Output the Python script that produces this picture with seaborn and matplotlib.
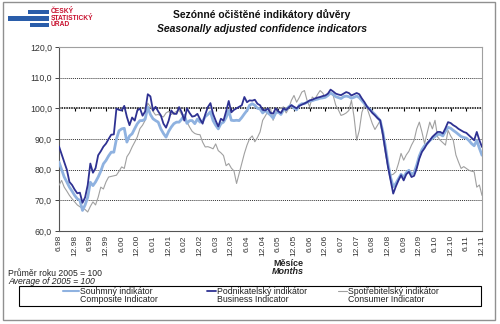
import matplotlib
matplotlib.use("Agg")
import matplotlib.pyplot as plt
import seaborn as sns
import pandas as pd
import numpy as np
from matplotlib.patches import Rectangle
from matplotlib.lines import Line2D

sns.set_theme(style="white")
plt.rcParams['font.family'] = ['Liberation Sans', 'DejaVu Sans']

# Monthly data, June 1998 .. December 2011
composite = [82.5, 80, 77.6, 76, 74.3, 73, 71.6, 70.5, 70, 66.7, 68.5, 71, 75.9, 74.8, 76, 77.6, 79.5, 81.9, 83, 84.5,
             85.7, 85.7, 90, 92.7, 93.3, 93.5, 89, 91, 91.7, 93.4, 95, 96, 96, 96.5, 100.4, 98, 96.6, 96, 95.5, 93.3,
             91.8, 90.6, 92.5, 93.9, 95, 95.5, 95.5, 96.5, 97.8, 95.1, 96, 96, 95, 96.5, 95.5, 95.8, 97.3, 98, 98.9, 96,
             94.5, 93.3, 95, 95.5, 97, 99.3, 96.1, 96, 96.1, 96, 97, 98.2, 99.3, 101, 101.5, 101, 100, 99.8, 98.5, 99.3,
             98.5, 97.8, 96.8, 98.5, 98.8, 98, 99.5, 99.5, 100.5, 101, 100, 99.5, 101, 101.5, 101.5, 102, 102.3, 102.5, 102.8, 103,
             103.3, 103.4, 103.6, 104.2, 105, 104.5, 103.8, 103.5, 103.2, 103.8, 104, 103.8, 103.3, 103.6, 104, 103.5, 102.5, 101.5, 100.5, 99.8,
             98.8, 98, 97, 96, 92.5, 87.5, 82, 77.5, 74.4, 75.5, 77, 78.5, 77.5, 79, 79.8, 78.5, 79, 81.5, 84.5, 86.5,
             87.8, 88.5, 89.5, 90.2, 90.8, 91.5, 91.5, 91, 92.5, 93.8, 93.5, 92.8, 92.2, 91.5, 90.8, 90.5, 90.3, 89.5, 88.5, 87.8,
             89.5, 87, 84.7]
business = [87.6, 85, 82.5, 80, 76, 75, 73.5, 72.3, 72.5, 69.2, 71, 75, 82, 79, 80.5, 84.7, 86, 87.5, 88.5, 90,
            91.4, 91.5, 99.9, 99.5, 99.3, 100.8, 97.2, 94.5, 97, 96, 99.3, 100, 97.6, 99, 104.6, 103.9, 99.3, 100.5, 99, 97.7,
            95, 93.7, 96, 99.3, 98.2, 98.2, 100.4, 98.7, 96, 100, 98.5, 97.3, 97.5, 98.2, 96.5, 95, 98, 100.4, 101.7, 98.2,
            96, 94.1, 96.6, 96, 99, 102.4, 98.7, 99.5, 100, 100.5, 101, 103.7, 102, 102.6, 102.5, 102.8, 101.5, 101, 99.5, 99.3,
            100, 98.5, 98.3, 100, 99, 98.5, 100, 99.5, 100.3, 101, 100.5, 100, 100.8, 101.2, 101.6, 102, 102.6, 102.8, 103.2, 103.5,
            103.7, 104, 104.2, 104.8, 106.1, 105.5, 104.8, 104.5, 104.3, 104.8, 105.3, 105, 104.2, 104.6, 105, 104.6, 103.2, 102, 100.5, 99.6,
            98.5, 97.7, 96.8, 96.1, 91.7, 86.3, 80.9, 76.5, 72.2, 74.5, 76.5, 78.2, 76.5, 78.5, 79.3, 77.6, 78, 80.4, 83.6, 85.8,
            87, 88.5, 89.5, 90.7, 91.5, 92.3, 92.3, 91.8, 93.5, 95.5, 95.2, 94.5, 94, 93.3, 92.8, 92.3, 92, 91.2, 90.4, 89.6,
            92.3, 89.6, 87.4]
consumer = [74.9, 76.5, 74.3, 73, 71.6, 70.5, 69.5, 68.5, 67.9, 67.5, 67, 66.2, 68, 69.5, 68.5, 71, 74.3, 73.7, 76, 77.6,
            77.8, 78, 78.2, 79.5, 80.9, 80.4, 84.2, 85.5, 87.4, 89, 90.7, 93.4, 94.5, 96.1, 101.7, 100.5, 99, 97.8, 98, 97.5,
            97.2, 98.5, 99, 98, 98.5, 99, 99.3, 98, 97, 95.5, 93.9, 92.5, 91.8, 91.5, 91.4, 89, 87.4, 87.5, 87.2, 86.8,
            88.4, 86.2, 85.5, 84.6, 81.3, 82, 80.5, 79.6, 75.5, 78.8, 82, 85.3, 88, 90.1, 91, 89.1, 90.5, 92.3, 96.1, 97.5,
            99, 100, 96.1, 98.7, 100, 100, 100.5, 98.5, 100, 102.6, 104.2, 102, 103.5, 105.3, 105.8, 102.6, 100.5, 103.7, 103, 104.5,
            105.8, 105, 103.5, 104.8, 104.8, 104.2, 101, 99.5, 97.7, 98, 98.5, 99.3, 102.6, 97.2, 89.6, 92.8, 98.7, 101, 100, 97.5,
            95, 93.1, 94.5, 96, 90.6, 85.3, 80.9, 78.2, 78.5, 79.3, 82, 85.3, 83.1, 84.8, 86, 88, 89.6, 93.3, 95.5, 92.3,
            88.5, 92, 95.5, 93.3, 96.1, 90.7, 89.6, 88.8, 88, 92.8, 91, 89.6, 84.8, 82.5, 80.4, 81, 80.4, 79.8, 79.5, 79.3,
            74.3, 75, 71.6]

months = list(range(len(composite)))
tick_pos = list(range(0, len(composite), 6))
tick_labels = [f"{6 if k % 2 == 0 else 12}.{(1998 + k // 2) % 100:02d}" for k in range(len(tick_pos))]
y_ticks = [60, 70, 80, 90, 100, 110, 120]

names_cz = ["Souhmný indikátor", "Podnikatelský indikátor", "Spotřebitelský indikátor"]
names_en = ["Composite Indicator", "Business Indicator", "Consumer Indicator"]
df = pd.DataFrame({
    "month": months * 3,
    "value": composite + business + consumer,
    "series": [names_en[0]] * len(months) + [names_en[1]] * len(months) + [names_en[2]] * len(months),
})

colors = ["#8FB2E0", "#2E3192", "#A0A0A0"]
widths = [2.0, 1.3, 0.8]

W, H = 500, 324
fig = plt.figure(figsize=(W / 100, H / 100), dpi=100)
fig.patch.set_facecolor("white")
ax = fig.add_axes([59 / W, 1 - 231 / H, (482 - 59) / W, (231 - 47) / H])

for k in (2, 0, 1):
    nm = names_en[k]
    sns.lineplot(data=df[df.series == nm], x="month", y="value", ax=ax,
                 color=colors[k], lw=widths[k], legend=False, zorder=3 + (k == 1))

ax.set_xlim(0, len(composite) - 1)
ax.set_ylim(60, 120)
ax.set_yticks(y_ticks)
ax.set_yticklabels([f"{v:.1f}".replace(".", ",") for v in y_ticks], fontsize=6.3, color="#333333")
ax.set_xticks(tick_pos)
ax.set_xticklabels(tick_labels, rotation=90, fontsize=6.0, color="#333333")
ax.set_xlabel("")
ax.set_ylabel("")
ax.tick_params(axis="y", length=3, width=0.7, color="#444444", pad=2, left=True)
ax.tick_params(axis="x", length=0, pad=3)

for v in (70, 80, 90, 110):
    ax.axhline(v, color="#333333", lw=0.7, ls=(0, (1, 1)), zorder=1)
ax.axhline(100, color="black", lw=1.1, ls=(0, (1, 0.6)), zorder=2)
ax.vlines(tick_pos, 99.2, 100, color="black", lw=0.8, zorder=2)

for s in ("top", "right"):
    ax.spines[s].set_color("#A0A0A0")
    ax.spines[s].set_linewidth(0.8)
for s in ("left", "bottom"):
    ax.spines[s].set_color("#555555")
    ax.spines[s].set_linewidth(0.8)

# Outer border
fig.add_artist(Rectangle((3 / W, 1 - 320 / H), 492 / W, 318 / H, transform=fig.transFigure,
                         fill=False, ec="#909090", lw=1.0))

# Logo
for (x0, x1, y0, y1) in [(28, 49, 9.5, 13.5), (8, 49, 16, 20.5), (30, 49, 23, 27)]:
    fig.add_artist(Rectangle((x0 / W, 1 - y1 / H), (x1 - x0) / W, (y1 - y0) / H,
                             transform=fig.transFigure, color="#2A5DAA", lw=0))
for txt, y in [("ČESKÝ", 11.5), ("STATISTICKÝ", 18.3), ("ÚŘAD", 25)]:
    fig.text(51 / W, 1 - y / H, txt, fontsize=4.8, fontweight="bold", color="#C8102E", va="center", ha="left")

# Titles
fig.text(262 / W, 1 - 14.5 / H, "Sezónné očištěné indikátory důvěry", fontsize=7.5, fontweight="bold",
         ha="center", va="center", color="#111111")
fig.text(262 / W, 1 - 29.5 / H, "Seasonally adjusted confidence indicators", fontsize=7.5, fontweight="bold",
         style="italic", ha="center", va="center", color="#111111")

# Axis titles
fig.text(288 / W, 1 - 263 / H, "Měsíce", fontsize=6.5, fontweight="bold", ha="center", va="center", color="#222222")
fig.text(288 / W, 1 - 272 / H, "Months", fontsize=6.5, fontweight="bold", style="italic", ha="center",
         va="center", color="#222222")
fig.text(8 / W, 1 - 273 / H, "Průměr roku 2005 = 100", fontsize=6.2, ha="left", va="center", color="#222222")
fig.text(8 / W, 1 - 281 / H, "Average of 2005 = 100", fontsize=6.2, style="italic", ha="left", va="center",
         color="#222222")

# Legend (box and entries)
fig.add_artist(Rectangle((19 / W, 1 - 306 / H), (481 - 19) / W, 20 / H, transform=fig.transFigure,
                         fill=False, ec="black", lw=0.8))
entries = [(63, 79, 80), (207, 216, 217), (338, 347, 348)]
for k, (lx0, lx1, tx) in enumerate(entries):
    fig.add_artist(Line2D([lx0 / W, lx1 / W], [1 - 291 / H, 1 - 291 / H], transform=fig.transFigure,
                          color=colors[k], lw=widths[k] if k != 0 else 1.5))
    fig.text(tx / W, 1 - 291 / H, names_cz[k], fontsize=6.3, ha="left", va="center", color="#222222")
    fig.text(tx / W, 1 - 300 / H, names_en[k], fontsize=6.3, ha="left", va="center", color="#222222")

fig.savefig("out.png", dpi=100, facecolor="white")
